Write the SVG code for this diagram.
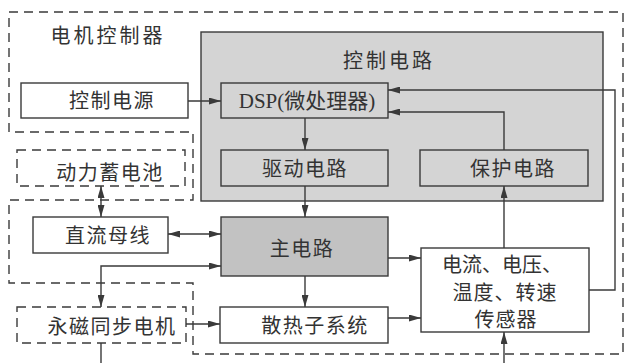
<svg xmlns="http://www.w3.org/2000/svg" width="625" height="363" viewBox="0 0 625 363">
<defs>
<style>
.bx{fill:#fff;stroke:#3a3a3a;stroke-width:1.4}
.gb{fill:#d4d4d4;stroke:#3a3a3a;stroke-width:1.4}
.mb{fill:#c2c2c2;stroke:#3a3a3a;stroke-width:1.4}
.db{fill:#fff;stroke:#3a3a3a;stroke-width:1.4;stroke-dasharray:9,6}
.ln{fill:none;stroke:#3a3a3a;stroke-width:1.4}
text{font-family:"Liberation Serif","Noto Sans CJK SC",serif;font-size:20px;fill:#333;text-anchor:middle}
</style>
<marker id="ah" viewBox="0 0 12 7" refX="12" refY="3.5" markerWidth="12" markerHeight="7" orient="auto-start-reverse" markerUnits="userSpaceOnUse">
<path d="M0,0 L12,3.5 L0,7 z" fill="#3a3a3a"/>
</marker>
</defs>
<rect width="625" height="363" fill="#fff"/>
<g id="controller">
<path d="M9,12 H623 V354 H193 V283 H9 V200 H193 V132 H9 Z" fill="none" stroke="#3a3a3a" stroke-width="1.4" stroke-dasharray="9,6"/>
<text x="108" y="43" style="letter-spacing:3px">电机控制器</text>
</g>
<g id="control-circuit">
<rect class="gb" x="201" y="32" width="402" height="169"/>
<text x="389" y="68" style="letter-spacing:3px">控制电路</text>
</g>
<g id="control-power">
<rect class="bx" x="21" y="83" width="167" height="35"/>
<text x="112" y="108" style="letter-spacing:1.5px">控制电源</text>
</g>
<g id="dsp">
<rect class="gb" x="221" y="83" width="167" height="35"/>
<text x="307" y="108" style="font-size:21px">DSP(微处理器)</text>
</g>
<g id="drive">
<rect class="gb" x="221" y="150" width="167" height="36"/>
<text x="305" y="176" style="letter-spacing:1.5px">驱动电路</text>
</g>
<g id="protect">
<rect class="gb" x="420" y="150" width="168" height="36"/>
<text x="513" y="176" style="letter-spacing:1.5px">保护电路</text>
</g>
<g id="battery">
<rect class="db" x="17" y="150" width="168" height="36"/>
<text x="110" y="180" style="letter-spacing:1.5px">动力蓄电池</text>
</g>
<g id="dc-bus">
<rect class="bx" x="33" y="217" width="135" height="36"/>
<text x="108" y="243" style="letter-spacing:1.5px">直流母线</text>
</g>
<g id="main-circuit">
<rect class="mb" x="221" y="217" width="167" height="59"/>
<text x="302" y="256" style="letter-spacing:1.5px">主电路</text>
</g>
<g id="motor">
<rect class="db" x="17" y="307" width="169" height="36"/>
<text x="112" y="334" style="letter-spacing:1.5px">永磁同步电机</text>
</g>
<g id="cooling">
<rect class="bx" x="220" y="307" width="168" height="36"/>
<text x="315" y="333" style="letter-spacing:1.5px">散热子系统</text>
</g>
<g id="sensor">
<rect class="bx" x="421" y="248" width="168" height="84"/>
<text x="502" y="272">电流、电压、</text>
<text x="505" y="300" style="letter-spacing:1px">温度、转速</text>
<text x="506" y="327" style="letter-spacing:1px">传感器</text>
</g>
<g id="connectors" class="ln">
<path class="ln" d="M188,101 H221" marker-end="url(#ah)"/>
<path class="ln" d="M305,118 V150" marker-end="url(#ah)"/>
<path class="ln" d="M305,186 V217" marker-end="url(#ah)"/>
<path class="ln" d="M504,150 V112 H388" marker-end="url(#ah)"/>
<path class="ln" d="M589,290 H615 V90 H388" marker-end="url(#ah)"/>
<path class="ln" d="M504,248 V186" marker-end="url(#ah)"/>
<path class="ln" d="M388,258 H421" marker-end="url(#ah)"/>
<path class="ln" d="M388,318 H421" marker-end="url(#ah)"/>
<path class="ln" d="M305,276 V307" marker-end="url(#ah)"/>
<path class="ln" d="M168,234 H221" marker-start="url(#ah)" marker-end="url(#ah)"/>
<path class="ln" d="M101,186 V217" marker-start="url(#ah)" marker-end="url(#ah)"/>
<path class="ln" d="M221,266 H101 V307" marker-start="url(#ah)" marker-end="url(#ah)"/>
<path class="ln" d="M186,324 H220" marker-end="url(#ah)"/>
<path class="ln" d="M101,343 V363"/>
<path class="ln" d="M504,363 V332" marker-end="url(#ah)"/>
</g>
</svg>
